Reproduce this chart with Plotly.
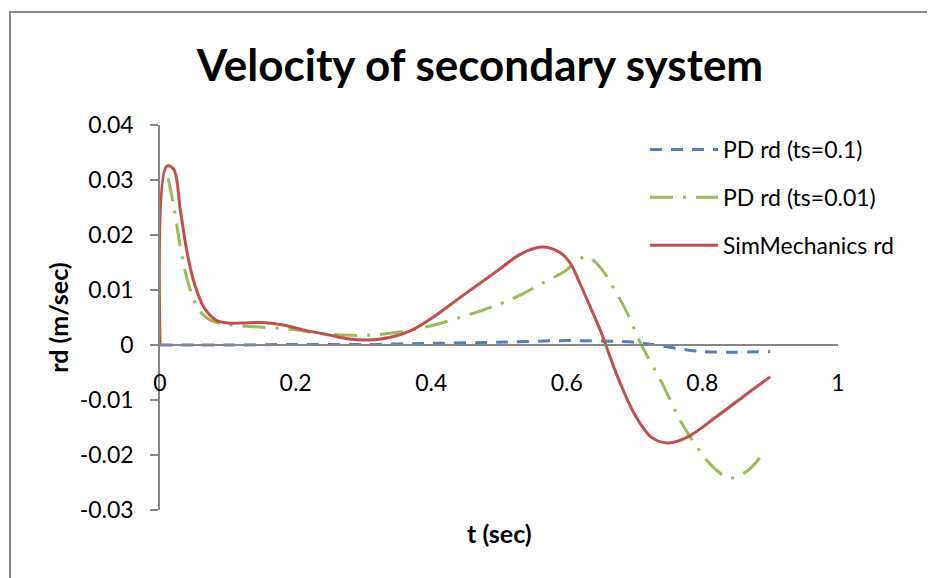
import plotly.graph_objects as go

# ---- data ----
t_blue = [0, 0.1, 0.2, 0.3, 0.4, 0.5, 0.6, 0.7, 0.8, 0.9]
rd_blue = [0, 0.0000, 0.0001, 0.0001, 0.0003, 0.0005, 0.0008, 0.0005, -0.0012, -0.0012]

t_green = [0.012, 0.02, 0.03, 0.04, 0.05, 0.06, 0.07, 0.08, 0.10, 0.14, 0.19, 0.23, 0.27,
           0.31, 0.35, 0.40, 0.45, 0.50, 0.535, 0.565, 0.597, 0.615, 0.628, 0.64, 0.655,
           0.665, 0.688, 0.71, 0.74, 0.765, 0.79, 0.815, 0.84, 0.865, 0.89]
rd_green = [0.0303, 0.0255, 0.0178, 0.0120, 0.0082, 0.0060, 0.0048, 0.0042, 0.0037, 0.0033,
            0.0029, 0.0022, 0.0018, 0.0018, 0.0023, 0.0035, 0.0053, 0.0074, 0.0093, 0.0113,
            0.0134, 0.0153, 0.0161, 0.0153, 0.0132, 0.0112, 0.0061, 0.0000, -0.0068,
            -0.0132, -0.0182, -0.0221, -0.0242, -0.0230, -0.0197]

t_red = [0, 0.01, 0.02, 0.03, 0.04, 0.05, 0.065, 0.083, 0.10, 0.12, 0.15, 0.18, 0.21, 0.25,
         0.28, 0.31, 0.34, 0.37, 0.40, 0.45, 0.50, 0.53, 0.563, 0.59, 0.605, 0.62, 0.635,
         0.65, 0.675, 0.70, 0.725, 0.75, 0.78, 0.82, 0.86, 0.90]
rd_red = [0, 0.0325, 0.0320, 0.0245, 0.0168, 0.0115, 0.0068, 0.0045, 0.0040, 0.0040, 0.0041,
          0.0037, 0.0028, 0.0018, 0.0011, 0.0009, 0.0014, 0.0026, 0.0048, 0.0093, 0.0137,
          0.0164, 0.0178, 0.0168, 0.0149, 0.0110, 0.0068, 0.0025, -0.0058, -0.0126, -0.0168,
          -0.0178, -0.0166, -0.0131, -0.0094, -0.0058]

x_ticks = [0, 0.2, 0.4, 0.6, 0.8, 1]
x_labels = ["0", "0.2", "0.4", "0.6", "0.8", "1"]
y_ticks = [-0.03, -0.02, -0.01, 0, 0.01, 0.02, 0.03, 0.04]
y_labels = ["-0.03", "-0.02", "-0.01", "0", "0.01", "0.02", "0.03", "0.04"]

FONT = "Lato, 'Open Sans', sans-serif"
AXIS_GRAY = "#868686"

fig = go.Figure()
fig.add_trace(go.Scatter(x=t_blue, y=rd_blue, mode="lines", name="PD rd (ts=0.1)",
                         legendgroup="a",
                         line=dict(color="#4F81BD", width=3, dash="12px,9px",
                                   shape="spline", smoothing=0.8)))
fig.add_trace(go.Scatter(x=t_green, y=rd_green, mode="lines", name="PD rd (ts=0.01)",
                         legendgroup="b",
                         line=dict(color="#9BBB59", width=3, dash="23px,10px,3px,10px",
                                   shape="spline", smoothing=1.0)))
fig.add_trace(go.Scatter(x=t_red, y=rd_red, mode="lines", name="SimMechanics rd",
                         legendgroup="c",
                         line=dict(color="#C0504D", width=3, shape="spline", smoothing=1.0)))

# page body has an 8px margin: figure sits at (8, 8)
OFF = 8
W, H = 935 - OFF, 578 - OFF
L, T = 160 - OFF, 125 - OFF
R, B = 935 - 838, 578 - 510
pw, ph = W - L - R, H - T - B

fig.update_layout(
    width=W, height=H,
    margin=dict(l=L, r=R, t=T, b=B),
    paper_bgcolor="white", plot_bgcolor="white",
    font=dict(family=FONT, size=23, color="black"),
    title=dict(text="<b>Velocity of secondary system</b>", font=dict(size=44, family=FONT),
               x=(480 - OFF) / W, xref="container", xanchor="center",
               y=1 - (66 - OFF) / H, yref="container", yanchor="middle"),
    showlegend=True,
    legend=dict(x=(645 - 160) / pw, y=1 - (128 - 125) / ph, xanchor="left", yanchor="top",
                font=dict(size=23, family=FONT), traceorder="grouped", tracegroupgap=15,
                itemwidth=68, bgcolor="rgba(0,0,0,0)"),
    xaxis=dict(range=[0, 1], tickvals=x_ticks, ticktext=x_labels, showgrid=False,
               zeroline=False, showline=True, linecolor=AXIS_GRAY, linewidth=1.5,
               anchor="free", position=0.03 / 0.07, ticks="", ticklabelstandoff=18),
    yaxis=dict(range=[-0.03, 0.04], tickvals=y_ticks, ticktext=y_labels, showgrid=False,
               zeroline=False, showline=True, linecolor=AXIS_GRAY, linewidth=1.5,
               ticks="outside", ticklen=8, tickcolor=AXIS_GRAY, tickwidth=1.5,
               ticklabelstandoff=12,
               title=dict(text="<b>rd (m/sec)</b>", font=dict(size=25, family=FONT), standoff=4)),
    annotations=[dict(text="<b>t (sec)</b>", xref="paper", yref="paper",
                      x=0.5, y=-(533 - 510) / ph, xanchor="center", yanchor="middle",
                      showarrow=False, font=dict(size=25, family=FONT))],
    shapes=[dict(type="rect", xref="paper", yref="paper",
                 x0=-(160 - 10) / pw, x1=2.0, y0=-1.0, y1=1 + (125 - 12) / ph,
                 line=dict(color=AXIS_GRAY, width=2), fillcolor="rgba(0,0,0,0)", layer="below")],
)

fig.write_html("out.html")
